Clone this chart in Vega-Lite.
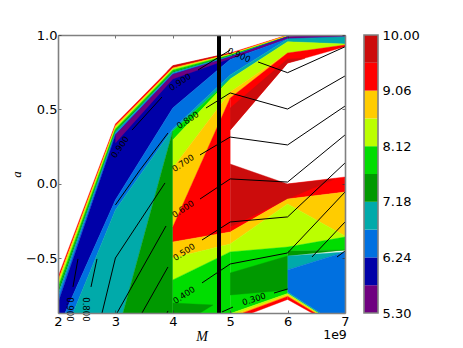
{"$schema":"https://vega.github.io/schema/vega-lite/v6.json","width":463,"height":348,"background":"white","padding":{"left":10,"top":29,"right":0,"bottom":0},"spacing":13,"config":{"view":{"stroke":null},"font":"DejaVu Sans","concat":{"spacing":13}},
"datasets":{"poly":[
{"p":"a1","o":0,"b":"9.06","x":2,"a":-0.624},{"p":"a1","o":1,"b":"9.06","x":3,"a":0.403},{"p":"a1","o":2,"b":"9.06","x":4,"a":0.794},{"p":"a1","o":3,"b":"9.06","x":5,"a":0.879},{"p":"a1","o":4,"b":"9.06","x":6,"a":1},{"p":"a1","o":5,"b":"9.06","x":7,"a":1},{"p":"a1","o":6,"b":"9.06","x":6,"a":0.998},{"p":"a1","o":7,"b":"9.06","x":5,"a":0.872},{"p":"a1","o":8,"b":"9.06","x":4,"a":0.779},{"p":"a1","o":9,"b":"9.06","x":3,"a":0.389},{"p":"a1","o":10,"b":"9.06","x":2,"a":-0.648},
{"p":"a1d","o":0,"b":"9.53","x":3.9,"a":0.755},{"p":"a1d","o":1,"b":"9.53","x":4,"a":0.794},{"p":"a1d","o":2,"b":"9.53","x":5,"a":0.879},{"p":"a1d","o":3,"b":"9.53","x":5,"a":0.875},{"p":"a1d","o":4,"b":"9.53","x":4,"a":0.785},
{"p":"a2","o":0,"b":"8.59","x":2,"a":-0.648},{"p":"a2","o":1,"b":"8.59","x":3,"a":0.389},{"p":"a2","o":2,"b":"8.59","x":4,"a":0.779},{"p":"a2","o":3,"b":"8.59","x":5,"a":0.872},{"p":"a2","o":4,"b":"8.59","x":6,"a":0.998},{"p":"a2","o":5,"b":"8.59","x":7,"a":1},{"p":"a2","o":6,"b":"8.59","x":6,"a":0.988},{"p":"a2","o":7,"b":"8.59","x":5,"a":0.869},{"p":"a2","o":8,"b":"8.59","x":4,"a":0.772},{"p":"a2","o":9,"b":"8.59","x":3,"a":0.379},{"p":"a2","o":10,"b":"8.59","x":2,"a":-0.668},
{"p":"a3","o":0,"b":"8.12","x":2,"a":-0.668},{"p":"a3","o":1,"b":"8.12","x":3,"a":0.379},{"p":"a3","o":2,"b":"8.12","x":4,"a":0.772},{"p":"a3","o":3,"b":"8.12","x":5,"a":0.869},{"p":"a3","o":4,"b":"8.12","x":6,"a":0.988},{"p":"a3","o":5,"b":"8.12","x":5,"a":0.866},{"p":"a3","o":6,"b":"8.12","x":4,"a":0.765},{"p":"a3","o":7,"b":"8.12","x":3,"a":0.369},{"p":"a3","o":8,"b":"8.12","x":2,"a":-0.691},
{"p":"a4","o":0,"b":"7.65","x":2,"a":-0.691},{"p":"a4","o":1,"b":"7.65","x":3,"a":0.369},{"p":"a4","o":2,"b":"7.65","x":4,"a":0.765},{"p":"a4","o":3,"b":"7.65","x":5,"a":0.866},{"p":"a4","o":4,"b":"7.65","x":6,"a":0.988},{"p":"a4","o":5,"b":"7.65","x":5,"a":0.862},{"p":"a4","o":6,"b":"7.65","x":4,"a":0.755},{"p":"a4","o":7,"b":"7.65","x":3,"a":0.359},{"p":"a4","o":8,"b":"7.65","x":2,"a":-0.715},
{"p":"a5","o":0,"b":"7.18","x":2,"a":-0.715},{"p":"a5","o":1,"b":"7.18","x":3,"a":0.359},{"p":"a5","o":2,"b":"7.18","x":4,"a":0.755},{"p":"a5","o":3,"b":"7.18","x":5,"a":0.862},{"p":"a5","o":4,"b":"7.18","x":6,"a":0.988},{"p":"a5","o":5,"b":"7.18","x":5,"a":0.859},{"p":"a5","o":6,"b":"7.18","x":4,"a":0.748},{"p":"a5","o":7,"b":"7.18","x":3,"a":0.349},{"p":"a5","o":8,"b":"7.18","x":2,"a":-0.738},
{"p":"a6","o":0,"b":"6.71","x":2,"a":-0.738},{"p":"a6","o":1,"b":"6.71","x":3,"a":0.349},{"p":"a6","o":2,"b":"6.71","x":4,"a":0.748},{"p":"a6","o":3,"b":"6.71","x":5,"a":0.859},{"p":"a6","o":4,"b":"6.71","x":6,"a":0.988},{"p":"a6","o":5,"b":"6.71","x":5,"a":0.856},{"p":"a6","o":6,"b":"6.71","x":4,"a":0.742},{"p":"a6","o":7,"b":"6.71","x":3,"a":0.339},{"p":"a6","o":8,"b":"6.71","x":2,"a":-0.762},
{"p":"a7","o":0,"b":"6.24","x":2,"a":-0.762},{"p":"a7","o":1,"b":"6.24","x":3,"a":0.339},{"p":"a7","o":2,"b":"6.24","x":4,"a":0.742},{"p":"a7","o":3,"b":"6.24","x":5,"a":0.856},{"p":"a7","o":4,"b":"6.24","x":6,"a":0.988},{"p":"a7","o":5,"b":"6.24","x":5,"a":0.852},{"p":"a7","o":6,"b":"6.24","x":4,"a":0.735},{"p":"a7","o":7,"b":"6.24","x":3,"a":0.329},{"p":"a7","o":8,"b":"6.24","x":2,"a":-0.799},
{"p":"b1","o":0,"b":"5.77","x":2,"a":-0.799},{"p":"b1","o":1,"b":"5.77","x":3,"a":0.329},{"p":"b1","o":2,"b":"5.77","x":4,"a":0.735},{"p":"b1","o":3,"b":"5.77","x":5,"a":0.852},{"p":"b1","o":4,"b":"5.77","x":6,"a":0.988},{"p":"b1","o":5,"b":"5.77","x":7,"a":1},{"p":"b1","o":6,"b":"5.77","x":7,"a":0.987},{"p":"b1","o":7,"b":"5.77","x":6,"a":0.975},{"p":"b1","o":8,"b":"5.77","x":5,"a":0.836},{"p":"b1","o":9,"b":"5.77","x":4,"a":0.51},{"p":"b1","o":10,"b":"5.77","x":3,"a":-0.107},{"p":"b1","o":11,"b":"5.77","x":2.122,"a":-0.866},{"p":"b1","o":12,"b":"5.77","x":2,"a":-0.866},
{"p":"b2","o":0,"b":"5.30","x":3,"a":0.329},{"p":"b2","o":1,"b":"5.30","x":4,"a":0.735},{"p":"b2","o":2,"b":"5.30","x":5,"a":0.852},{"p":"b2","o":3,"b":"5.30","x":6,"a":0.988},{"p":"b2","o":4,"b":"5.30","x":7,"a":1},{"p":"b2","o":5,"b":"5.30","x":7,"a":0.987},{"p":"b2","o":6,"b":"5.30","x":6,"a":0.975},{"p":"b2","o":7,"b":"5.30","x":5,"a":0.842},{"p":"b2","o":8,"b":"5.30","x":4,"a":0.705},{"p":"b2","o":9,"b":"5.30","x":3,"a":0.275},
{"p":"c1","o":0,"b":"6.24","x":2.122,"a":-0.866},{"p":"c1","o":1,"b":"6.24","x":3,"a":-0.107},{"p":"c1","o":2,"b":"6.24","x":4,"a":0.51},{"p":"c1","o":3,"b":"6.24","x":5,"a":0.836},{"p":"c1","o":4,"b":"6.24","x":6,"a":0.975},{"p":"c1","o":5,"b":"6.24","x":7,"a":0.987},{"p":"c1","o":6,"b":"6.24","x":6,"a":0.973},{"p":"c1","o":7,"b":"6.24","x":5,"a":0.732},{"p":"c1","o":8,"b":"6.24","x":4,"a":0.369},{"p":"c1","o":9,"b":"6.24","x":3,"a":-0.174},{"p":"c1","o":10,"b":"6.24","x":2.261,"a":-0.866},
{"p":"c2","o":0,"b":"6.71","x":2.261,"a":-0.866},{"p":"c2","o":1,"b":"6.71","x":3,"a":-0.174},{"p":"c2","o":2,"b":"6.71","x":4,"a":0.369},{"p":"c2","o":3,"b":"6.71","x":4,"a":0.356},{"p":"c2","o":4,"b":"6.71","x":3.812,"a":0.094},{"p":"c2","o":5,"b":"6.71","x":3.132,"a":-0.866},
{"p":"c3","o":0,"b":"7.18","x":3.132,"a":-0.866},{"p":"c3","o":1,"b":"7.18","x":3.812,"a":0.094},{"p":"c3","o":2,"b":"7.18","x":4,"a":0.356},{"p":"c3","o":3,"b":"7.18","x":4,"a":-0.866},
{"p":"d1","o":0,"b":"6.71","x":4,"a":0.369},{"p":"d1","o":1,"b":"6.71","x":5,"a":0.732},{"p":"d1","o":2,"b":"6.71","x":6,"a":0.973},{"p":"d1","o":3,"b":"6.71","x":7,"a":0.987},{"p":"d1","o":4,"b":"6.71","x":7,"a":0.94},{"p":"d1","o":5,"b":"6.71","x":6,"a":0.955},{"p":"d1","o":6,"b":"6.71","x":5,"a":0.705},{"p":"d1","o":7,"b":"6.71","x":4,"a":0.356},
{"p":"d2","o":0,"b":"7.65","x":4,"a":0.356},{"p":"d2","o":1,"b":"7.65","x":5,"a":0.705},{"p":"d2","o":2,"b":"7.65","x":4,"a":0.295},
{"p":"d3","o":0,"b":"8.12","x":4,"a":0.295},{"p":"d3","o":1,"b":"8.12","x":5,"a":0.705},{"p":"d3","o":2,"b":"8.12","x":6,"a":0.955},{"p":"d3","o":3,"b":"8.12","x":7,"a":0.94},{"p":"d3","o":4,"b":"8.12","x":7,"a":0.933},{"p":"d3","o":5,"b":"8.12","x":6,"a":0.879},{"p":"d3","o":6,"b":"8.12","x":5,"a":0.617},{"p":"d3","o":7,"b":"8.12","x":4,"a":0.107},
{"p":"d4","o":0,"b":"8.59","x":4,"a":0.107},{"p":"d4","o":1,"b":"8.59","x":5,"a":0.617},{"p":"d4","o":2,"b":"8.59","x":6,"a":0.879},{"p":"d4","o":3,"b":"8.59","x":5,"a":0.577},{"p":"d4","o":4,"b":"8.59","x":4,"a":-0.289},
{"p":"d5","o":0,"b":"9.06","x":4,"a":-0.289},{"p":"d5","o":1,"b":"9.06","x":5,"a":0.577},{"p":"d5","o":2,"b":"9.06","x":5,"a":-0.322},{"p":"d5","o":3,"b":"9.06","x":4,"a":-0.389},
{"p":"d6","o":0,"b":"9.06","x":5,"a":0.577},{"p":"d6","o":1,"b":"9.06","x":6,"a":0.879},{"p":"d6","o":2,"b":"9.06","x":7,"a":0.933},{"p":"d6","o":3,"b":"9.06","x":7,"a":0.921},{"p":"d6","o":4,"b":"9.06","x":6,"a":0.812},{"p":"d6","o":5,"b":"9.06","x":5,"a":0.362},
{"p":"d7","o":0,"b":"9.53","x":5,"a":0.51},{"p":"d7","o":1,"b":"9.53","x":6,"a":0.839},{"p":"d7","o":2,"b":"9.53","x":6.3,"a":0.842},{"p":"d7","o":3,"b":"9.53","x":6,"a":0.812},{"p":"d7","o":4,"b":"9.53","x":5,"a":0.362},
{"p":"e1","o":0,"b":"8.59","x":4,"a":-0.389},{"p":"e1","o":1,"b":"8.59","x":5,"a":-0.322},{"p":"e1","o":2,"b":"8.59","x":5,"a":-0.403},{"p":"e1","o":3,"b":"8.59","x":4,"a":-0.497},
{"p":"e2","o":0,"b":"8.12","x":4,"a":-0.497},{"p":"e2","o":1,"b":"8.12","x":5,"a":-0.403},{"p":"e2","o":2,"b":"8.12","x":5,"a":-0.456},{"p":"e2","o":3,"b":"8.12","x":4,"a":-0.644},
{"p":"e3","o":0,"b":"7.65","x":4,"a":-0.644},{"p":"e3","o":1,"b":"7.65","x":5,"a":-0.456},{"p":"e3","o":2,"b":"7.65","x":5,"a":-0.866},{"p":"e3","o":3,"b":"7.65","x":4,"a":-0.866},
{"p":"e4","o":0,"b":"7.18","x":4,"a":-0.799},{"p":"e4","o":1,"b":"7.18","x":4.7,"a":-0.812},{"p":"e4","o":2,"b":"7.18","x":4.474,"a":-0.866},{"p":"e4","o":3,"b":"7.18","x":4,"a":-0.866},
{"p":"f1","o":0,"b":"9.06","x":6,"a":0},{"p":"f1","o":1,"b":"9.06","x":7,"a":0.047},{"p":"f1","o":2,"b":"9.06","x":7,"a":-0.054},{"p":"f1","o":3,"b":"9.06","x":6,"a":-0.101},{"p":"f1","o":4,"b":"9.06","x":5,"a":-0.322},{"p":"f1","o":5,"b":"9.06","x":5,"a":-0.289},
{"p":"f2","o":0,"b":"9.53","x":5,"a":0.134},{"p":"f2","o":1,"b":"9.53","x":6,"a":0},{"p":"f2","o":2,"b":"9.53","x":6.82,"a":0.034},{"p":"f2","o":3,"b":"9.53","x":6,"a":-0.101},{"p":"f2","o":4,"b":"9.53","x":5,"a":-0.289},
{"p":"f3","o":0,"b":"8.59","x":5,"a":-0.322},{"p":"f3","o":1,"b":"8.59","x":6,"a":-0.101},{"p":"f3","o":2,"b":"8.59","x":7,"a":-0.054},{"p":"f3","o":3,"b":"8.59","x":7,"a":-0.349},{"p":"f3","o":4,"b":"8.59","x":6,"a":-0.134},{"p":"f3","o":5,"b":"8.59","x":5,"a":-0.403},
{"p":"f4","o":0,"b":"8.12","x":5,"a":-0.403},{"p":"f4","o":1,"b":"8.12","x":6,"a":-0.134},{"p":"f4","o":2,"b":"8.12","x":7,"a":-0.349},{"p":"f4","o":3,"b":"8.12","x":7,"a":-0.356},{"p":"f4","o":4,"b":"8.12","x":6,"a":-0.423},{"p":"f4","o":5,"b":"8.12","x":5,"a":-0.456},
{"p":"f5","o":0,"b":"7.65","x":5,"a":-0.456},{"p":"f5","o":1,"b":"7.65","x":6,"a":-0.423},{"p":"f5","o":2,"b":"7.65","x":7,"a":-0.356},{"p":"f5","o":3,"b":"7.65","x":7,"a":-0.443},{"p":"f5","o":4,"b":"7.65","x":6,"a":-0.45},{"p":"f5","o":5,"b":"7.65","x":6,"a":-0.735},{"p":"f5","o":6,"b":"7.65","x":5.03,"a":-0.866},{"p":"f5","o":7,"b":"7.65","x":5,"a":-0.866},
{"p":"f6","o":0,"b":"7.18","x":5,"a":-0.597},{"p":"f6","o":1,"b":"7.18","x":6,"a":-0.483},{"p":"f6","o":2,"b":"7.18","x":6,"a":-0.712},{"p":"f6","o":3,"b":"7.18","x":5,"a":-0.745},
{"p":"f7","o":0,"b":"7.18","x":6,"a":-0.45},{"p":"f7","o":1,"b":"7.18","x":7,"a":-0.443},{"p":"f7","o":2,"b":"7.18","x":6,"a":-0.483},
{"p":"f8","o":0,"b":"6.71","x":6,"a":-0.483},{"p":"f8","o":1,"b":"6.71","x":7,"a":-0.456},{"p":"f8","o":2,"b":"6.71","x":6,"a":-0.577},
{"p":"f9","o":0,"b":"6.24","x":6,"a":-0.577},{"p":"f9","o":1,"b":"6.24","x":7,"a":-0.456},{"p":"f9","o":2,"b":"6.24","x":7,"a":-0.866},{"p":"f9","o":3,"b":"6.24","x":6.565,"a":-0.866},{"p":"f9","o":4,"b":"6.24","x":6,"a":-0.725},
{"p":"g1","o":0,"b":"8.12","x":5.03,"a":-0.866},{"p":"g1","o":1,"b":"8.12","x":6,"a":-0.735},{"p":"g1","o":2,"b":"8.12","x":6,"a":-0.745},{"p":"g1","o":3,"b":"8.12","x":5.136,"a":-0.866},
{"p":"g2","o":0,"b":"8.59","x":5.136,"a":-0.866},{"p":"g2","o":1,"b":"8.59","x":6,"a":-0.745},{"p":"g2","o":2,"b":"8.59","x":6,"a":-0.755},{"p":"g2","o":3,"b":"8.59","x":5.223,"a":-0.866},
{"p":"g3","o":0,"b":"9.06","x":5.223,"a":-0.866},{"p":"g3","o":1,"b":"9.06","x":6,"a":-0.755},{"p":"g3","o":2,"b":"9.06","x":6,"a":-0.775},{"p":"g3","o":3,"b":"9.06","x":5.38,"a":-0.866},
{"p":"g4","o":0,"b":"6.71","x":6,"a":-0.725},{"p":"g4","o":1,"b":"6.71","x":6.565,"a":-0.866},{"p":"g4","o":2,"b":"6.71","x":6.53,"a":-0.866},{"p":"g4","o":3,"b":"6.71","x":6,"a":-0.735},
{"p":"g5","o":0,"b":"8.12","x":6,"a":-0.735},{"p":"g5","o":1,"b":"8.12","x":6.53,"a":-0.866},{"p":"g5","o":2,"b":"8.12","x":6.503,"a":-0.866},{"p":"g5","o":3,"b":"8.12","x":6,"a":-0.745},
{"p":"g6","o":0,"b":"8.59","x":6,"a":-0.745},{"p":"g6","o":1,"b":"8.59","x":6.503,"a":-0.866},{"p":"g6","o":2,"b":"8.59","x":6.477,"a":-0.866},{"p":"g6","o":3,"b":"8.59","x":6,"a":-0.755},
{"p":"g7","o":0,"b":"9.06","x":6,"a":-0.755},{"p":"g7","o":1,"b":"9.06","x":6.477,"a":-0.866},{"p":"g7","o":2,"b":"9.06","x":6.425,"a":-0.866},{"p":"g7","o":3,"b":"9.06","x":6,"a":-0.775}
],
"contours":[
{"s":"9a","o":0,"x":2.261,"a":-0.691},{"s":"9a","o":1,"x":2.348,"a":-0.503},
{"s":"9b","o":0,"x":3.289,"a":0.362},{"s":"9b","o":1,"x":3.812,"a":0.584},
{"s":"9c","o":0,"x":4.439,"a":0.765},{"s":"9c","o":1,"x":5,"a":0.899},
{"s":"9d","o":0,"x":5.484,"a":0.819},{"s":"9d","o":1,"x":6,"a":0.747},{"s":"9d","o":2,"x":7,"a":0.921},
{"s":"8a","o":0,"x":2.575,"a":-0.691},{"s":"8a","o":1,"x":2.679,"a":-0.503},
{"s":"8b","o":0,"x":3,"a":-0.141},{"s":"8b","o":1,"x":3.429,"a":0.094},{"s":"8b","o":2,"x":3.916,"a":0.342},
{"s":"8c","o":0,"x":4.578,"a":0.51},{"s":"8c","o":1,"x":5,"a":0.611},{"s":"8c","o":2,"x":6,"a":0.503},{"s":"8c","o":3,"x":7,"a":0.725},
{"s":"7a","o":0,"x":2.767,"a":-0.866},{"s":"7a","o":1,"x":3,"a":-0.497},{"s":"7a","o":2,"x":3.864,"a":0.007},
{"s":"7b","o":0,"x":4.474,"a":0.195},{"s":"7b","o":1,"x":5,"a":0.315},{"s":"7b","o":2,"x":6,"a":0.262},{"s":"7b","o":3,"x":7,"a":0.523},
{"s":"6a","o":0,"x":3.028,"a":-0.866},{"s":"6a","o":1,"x":3.882,"a":-0.282},
{"s":"6b","o":0,"x":4.474,"a":-0.101},{"s":"6b","o":1,"x":5,"a":0.034},{"s":"6b","o":2,"x":6,"a":0.013},{"s":"6b","o":3,"x":7,"a":0.329},
{"s":"5a","o":0,"x":3.463,"a":-0.866},{"s":"5a","o":1,"x":3.916,"a":-0.557},
{"s":"5b","o":0,"x":4.509,"a":-0.376},{"s":"5b","o":1,"x":5,"a":-0.255},{"s":"5b","o":2,"x":6,"a":-0.221},{"s":"5b","o":3,"x":7,"a":0.141},
{"s":"4a","o":0,"x":3.899,"a":-0.866},{"s":"4a","o":1,"x":3.916,"a":-0.852},
{"s":"4b","o":0,"x":4.509,"a":-0.664},{"s":"4b","o":1,"x":5,"a":-0.537},{"s":"4b","o":2,"x":6,"a":-0.463},{"s":"4b","o":3,"x":7,"a":-0.054},
{"s":"3a","o":0,"x":4.857,"a":-0.859},{"s":"3a","o":1,"x":5.049,"a":-0.826},
{"s":"3b","o":0,"x":5.763,"a":-0.732},{"s":"3b","o":1,"x":6,"a":-0.705},
{"s":"3c","o":0,"x":6.425,"a":-0.49},{"s":"3c","o":1,"x":7,"a":-0.255},
{"s":"2a","o":0,"x":6.861,"a":-0.49},{"s":"2a","o":1,"x":7,"a":-0.45}
]},
"hconcat":[
{"width":287,"height":278,"layer":[
{"data":{"name":"poly"},"mark":{"type":"line","strokeWidth":0.4,"clip":true},"encoding":{
"x":{"field":"x","type":"quantitative","scale":{"domain":[2,7],"nice":false,"zero":false},"axis":{"orient":"bottom","values":[2,3,4,5,6,7],"format":"d","grid":false,"title":"M","titleFont":"Liberation Serif","titleFontStyle":"italic","titleFontWeight":"normal","titleFontSize":14,"titleColor":"black","titlePadding":1,"labelFont":"DejaVu Sans","labelFontSize":13,"labelColor":"black","labelPadding":5,"tickSize":-3,"tickColor":"#333333","tickWidth":0.7,"domainColor":"#808080","domainWidth":1.6,"zindex":1,"labelFlush":false}},
"y":{"field":"a","type":"quantitative","scale":{"domain":[-0.866,1],"nice":false,"zero":false},"axis":{"orient":"left","values":[-0.5,0,0.5,1],"format":".1f","grid":false,"title":"a","titleFont":"Liberation Serif","titleFontStyle":"italic","titleFontWeight":"normal","titleFontSize":13,"titleColor":"black","titlePadding":2,"labelFont":"DejaVu Sans","labelFontSize":13,"labelColor":"black","labelPadding":4,"tickSize":-3,"tickColor":"#333333","tickWidth":0.7,"domainColor":"#808080","domainWidth":1.6,"zindex":1}},
"order":{"field":"o","type":"quantitative"},"detail":{"field":"p"},
"fill":{"field":"b","type":"nominal","legend":null,"scale":{"domain":["5.30","5.77","6.24","6.71","7.18","7.65","8.12","8.59","9.06","9.53"],"range":["#6f0080","#0000a8","#0070e0","#00aaaa","#009900","#00dd00","#bbff00","#ffcc00","#ff0000","#cc0c0c"]}},
"stroke":{"field":"b","type":"nominal","legend":null,"scale":{"domain":["5.30","5.77","6.24","6.71","7.18","7.65","8.12","8.59","9.06","9.53"],"range":["#6f0080","#0000a8","#0070e0","#00aaaa","#009900","#00dd00","#bbff00","#ffcc00","#ff0000","#cc0c0c"]}}}},
{"data":{"name":"contours"},"mark":{"type":"line","color":"black","strokeWidth":1,"clip":true},"encoding":{
"x":{"field":"x","type":"quantitative","axis":{"orient":"top","values":[2,3,4,5,6,7],"labels":false,"title":null,"grid":false,"tickSize":-3,"tickColor":"#333333","tickWidth":0.7,"domainColor":"#808080","domainWidth":1.6,"zindex":1}},
"y":{"field":"a","type":"quantitative","axis":{"orient":"right","values":[-0.5,0,0.5,1],"labels":false,"title":null,"grid":false,"tickSize":-3,"tickColor":"#333333","tickWidth":0.7,"domainColor":"#808080","domainWidth":1.6,"zindex":1}},
"order":{"field":"o","type":"quantitative"},"detail":{"field":"s"}}},
{"data":{"values":[{"mass":4.805}]},"mark":{"type":"rule","color":"black","strokeWidth":4},"encoding":{"x":{"field":"mass","type":"quantitative","axis":null}}},
{"data":{"values":[{"t":"0.900","x":2.209,"a":-0.842},{"t":"0.800","x":2.483,"a":-0.842}]},"mark":{"type":"text","angle":90,"fontSize":8.5,"font":"DejaVu Sans","color":"black"},"encoding":{"x":{"field":"x","type":"quantitative","axis":null},"y":{"field":"a","type":"quantitative","axis":null},"text":{"field":"t"}}},
{"data":{"values":[{"t":"0.900","x":3.08,"a":0.248}]},"mark":{"type":"text","angle":305,"fontSize":8.5,"font":"DejaVu Sans","color":"black"},"encoding":{"x":{"field":"x","type":"quantitative","axis":null},"y":{"field":"a","type":"quantitative","axis":null},"text":{"field":"t"}}},
{"data":{"values":[{"t":"0.900","x":4.125,"a":0.685},{"t":"0.800","x":4.26,"a":0.43},{"t":"0.700","x":4.178,"a":0.141},{"t":"0.600","x":4.178,"a":-0.168},{"t":"0.500","x":4.195,"a":-0.456},{"t":"0.400","x":4.195,"a":-0.745}]},"mark":{"type":"text","angle":326,"fontSize":8.5,"font":"DejaVu Sans","color":"black"},"encoding":{"x":{"field":"x","type":"quantitative","axis":null},"y":{"field":"a","type":"quantitative","axis":null},"text":{"field":"t"}}},
{"data":{"values":[{"t":"0.900","x":5.153,"a":0.866}]},"mark":{"type":"text","angle":24,"fontSize":8.5,"font":"DejaVu Sans","color":"black"},"encoding":{"x":{"field":"x","type":"quantitative","axis":null},"y":{"field":"a","type":"quantitative","axis":null},"text":{"field":"t"}}},
{"data":{"values":[{"t":"0.300","x":5.415,"a":-0.772}]},"mark":{"type":"text","angle":342,"fontSize":8.5,"font":"DejaVu Sans","color":"black"},"encoding":{"x":{"field":"x","type":"quantitative","axis":null},"y":{"field":"a","type":"quantitative","axis":null},"text":{"field":"t"}}},
{"data":{"values":[{"t":"1e9","x":6.826,"a":-1.015}]},"mark":{"type":"text","fontSize":12.5,"font":"DejaVu Sans","color":"black"},"encoding":{"x":{"field":"x","type":"quantitative","axis":null},"y":{"field":"a","type":"quantitative","axis":null},"text":{"field":"t"}}}
],"resolve":{"axis":{"x":"independent","y":"independent"}}},
{"width":14,"height":278,"layer":[
{"data":{"values":[{"b":"5.30","lo":5.3,"hi":5.77},{"b":"5.77","lo":5.77,"hi":6.24},{"b":"6.24","lo":6.24,"hi":6.71},{"b":"6.71","lo":6.71,"hi":7.18},{"b":"7.18","lo":7.18,"hi":7.65},{"b":"7.65","lo":7.65,"hi":8.12},{"b":"8.12","lo":8.12,"hi":8.59},{"b":"8.59","lo":8.59,"hi":9.06},{"b":"9.06","lo":9.06,"hi":9.53},{"b":"9.53","lo":9.53,"hi":10}]},"mark":{"type":"rect"},"encoding":{
"y":{"field":"lo","type":"quantitative","scale":{"domain":[5.3,10],"nice":false,"zero":false},"axis":{"orient":"right","values":[5.3,6.24,7.18,8.12,9.06,10],"format":".2f","title":null,"grid":false,"labelFont":"DejaVu Sans","labelFontSize":13,"labelColor":"black","labelPadding":4,"tickSize":0,"domain":false}},
"y2":{"field":"hi"},
"fill":{"field":"b","type":"nominal","legend":null,"scale":{"domain":["5.30","5.77","6.24","6.71","7.18","7.65","8.12","8.59","9.06","9.53"],"range":["#6f0080","#0000a8","#0070e0","#00aaaa","#009900","#00dd00","#bbff00","#ffcc00","#ff0000","#cc0c0c"]}}}},
{"data":{"values":[{"lo":5.3,"hi":10}]},"mark":{"type":"rect","filled":false,"stroke":"#808080","strokeWidth":1.6},"encoding":{"y":{"field":"lo","type":"quantitative"},"y2":{"field":"hi"}}}
]}
]}
